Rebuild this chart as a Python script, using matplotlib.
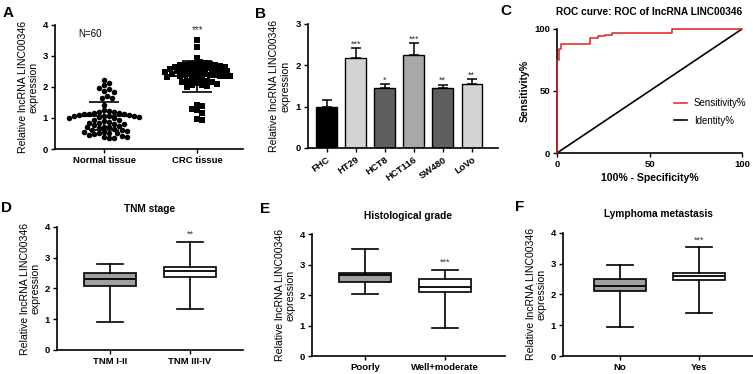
import numpy as np
import matplotlib
matplotlib.use("Agg")
import matplotlib.pyplot as plt

plt.rcParams['font.family'] = ['Liberation Sans', 'DejaVu Sans']

# ---------------- data ----------------
# Panel A: scatter dot plot (N=60 per group)
groups_A = ["Normal tissue", "CRC tissue"]
normal_vals = [2.22, 2.12, 2.05, 1.98, 1.95, 1.87, 1.85, 1.65, 1.65, 1.72,
               1.42, 1.25, 1.22, 1.20, 1.18, 1.15, 1.15, 1.13, 1.12, 1.12,
               1.10, 1.10, 1.08, 1.08, 1.05, 1.05, 1.02, 1.02, 1.00, 1.00,
               0.95, 0.92, 0.90, 0.88, 0.85, 0.85, 0.82, 0.80, 0.78, 0.75,
               0.72, 0.70, 0.70, 0.68, 0.65, 0.62, 0.60, 0.58, 0.55, 0.55,
               0.52, 0.50, 0.50, 0.48, 0.45, 0.42, 0.40, 0.38, 0.35, 0.35]
crc_vals = [3.50, 3.30, 2.95,
            2.80, 2.78, 2.76, 2.75, 2.74, 2.72, 2.70, 2.70, 2.68, 2.66,
            2.65, 2.64, 2.62, 2.60, 2.60, 2.58, 2.57, 2.55, 2.55, 2.53,
            2.52, 2.50, 2.50, 2.48, 2.47, 2.45, 2.45, 2.43, 2.42, 2.40,
            2.40, 2.38, 2.37, 2.36, 2.35, 2.35, 2.33, 2.30,
            2.25, 2.22, 2.20, 2.18, 2.16, 2.15, 2.12, 2.10, 2.08, 2.05,
            2.02, 2.00,
            1.42, 1.40, 1.30, 1.25, 1.15, 0.97, 0.95]
means_A = [1.06, 2.35]
sds_A = [0.44, 0.50]

# Panel B: bar chart
cells_B = ["FHC", "HT29", "HCT8", "HCT116", "SW480", "LoVo"]
means_B = [1.00, 2.18, 1.45, 2.25, 1.45, 1.55]
errs_B = [0.17, 0.23, 0.10, 0.28, 0.08, 0.11]
stars_B = ["", "***", "*", "***", "**", "**"]
colors_B = ["#000000", "#d4d4d4", "#5e5e5e", "#a8a8a8", "#5e5e5e", "#d4d4d4"]

# Panel C: ROC curve
roc_fpr = [0, 0, 1, 1, 2, 2, 18, 18, 22, 22, 26, 26, 30, 30, 62, 62, 100]
roc_tpr = [0, 75, 75, 84, 84, 88, 88, 93, 93, 94, 94, 95, 95, 97, 97, 100, 100]
ident_x = [0, 100]
ident_y = [0, 100]

# Panels D-F: box plots (whislo, q1, med, q3, whishi)
titles_box = ["TNM stage", "Histological grade", "Lymphoma metastasis"]
labels_box = [["TNM I-II", "TNM III-IV"], ["Poorly", "Well+moderate"], ["No", "Yes"]]
whislo_box = [[0.92, 1.32], [2.04, 0.91], [0.94, 1.41]]
q1_box = [[2.08, 2.38], [2.44, 2.11], [2.11, 2.46]]
med_box = [[2.32, 2.57], [2.66, 2.26], [2.27, 2.60]]
q3_box = [[2.50, 2.70], [2.73, 2.53], [2.49, 2.70]]
whishi_box = [[2.78, 3.50], [3.50, 2.81], [2.95, 3.52]]
stars_box = [["", "**"], ["", "***"], ["", "***"]]

# ---------------- helpers ----------------
FS_TICK = 6.8
FS_LAB = 7.6


def style(ax):
    for s in ["top", "right"]:
        ax.spines[s].set_visible(False)
    for s in ["left", "bottom"]:
        ax.spines[s].set_linewidth(1.2)
    ax.tick_params(direction="out", length=3, width=1.0, labelsize=FS_TICK, pad=2)
    for lab in ax.get_xticklabels() + ax.get_yticklabels():
        lab.set_fontweight("bold")


def swarm(vals, xpx, ypx, d):
    vals = np.asarray(vals, dtype=float)
    offs = np.zeros(len(vals))
    placed = []
    order = np.argsort(-vals)
    step = d * 0.5
    for i in order:
        y = vals[i] * ypx
        cands = [0.0]
        for j in range(1, 200):
            cands += [j * step, -j * step]
        for c in cands:
            ok = True
            for (px, py) in placed:
                if (c - px) ** 2 + (y - py) ** 2 < d * d:
                    ok = False
                    break
            if ok:
                placed.append((c, y))
                offs[i] = c / xpx
                break
    return offs


fig = plt.figure(figsize=(7.53, 3.74), dpi=100)
ylab = "Relative lncRNA LINC00346\nexpression"

# ---------------- Panel A ----------------
axA = fig.add_axes([0.073, 0.6016, 0.2497, 0.3316])
for gi, (vals, mk) in enumerate([(normal_vals, "o"), (crc_vals, "s")]):
    offs = swarm(vals, 93.0, 31.0, 5.0)
    axA.scatter(gi + offs, vals, marker=mk, s=16 if mk == "o" else 13,
                color="black", linewidths=0, zorder=2)
    m, sd = means_A[gi], sds_A[gi]
    axA.hlines(m, gi - 0.33, gi + 0.33, color="black", lw=1.3, zorder=3)
    axA.vlines(gi, m - sd, m + sd, color="black", lw=1.2, zorder=3)
    axA.hlines([m - sd, m + sd], gi - 0.16, gi + 0.16, color="black", lw=1.2, zorder=3)
axA.set_xlim(-0.53, 1.49)
axA.set_ylim(0, 4)
axA.set_yticks([0, 1, 2, 3, 4])
axA.set_xticks([0, 1])
axA.set_xticklabels(groups_A)
axA.set_ylabel(ylab, fontsize=FS_LAB, labelpad=3, linespacing=1.1)
axA.text(-0.15, 3.72, "N=60", fontsize=7, ha="center", va="center")
axA.text(1, 3.82, "***", fontsize=7, ha="center", va="center", color="#333333")
style(axA)

# ---------------- Panel B ----------------
axB = fig.add_axes([0.409, 0.6043, 0.2523, 0.3316])
xb = np.arange(len(cells_B))
axB.bar(xb, means_B, width=0.71, color=colors_B, edgecolor="black", linewidth=1.0, zorder=2)
axB.errorbar(xb, means_B, yerr=[np.zeros(len(xb)), errs_B], fmt="none",
             ecolor="black", elinewidth=1.1, capsize=3.6, capthick=1.1, zorder=1)
for x, m, e, s in zip(xb, means_B, errs_B, stars_B):
    if s:
        axB.text(x, m + e + 0.1, s, fontsize=6.5, ha="center", va="center", color="#333333")
axB.set_xlim(-0.64, 5.9)
axB.set_ylim(0, 3)
axB.set_yticks([0, 1, 2, 3])
axB.set_xticks(xb)
axB.set_xticklabels(cells_B, rotation=35, ha="right", rotation_mode="anchor")
axB.set_ylabel(ylab, fontsize=FS_LAB, labelpad=4, linespacing=1.1)
style(axB)

# ---------------- Panel C ----------------
axC = fig.add_axes([0.7397, 0.5909, 0.2457, 0.3316])
axC.plot(ident_x, ident_y, color="black", lw=1.2, label="Identity%", zorder=2)
axC.plot(roc_fpr, roc_tpr, color="#e02020", lw=1.1, label="Sensitivity%",
         zorder=5, clip_on=False)
axC.set_xlim(0, 100)
axC.set_ylim(0, 100)
axC.set_xticks([0, 50, 100])
axC.set_yticks([0, 50, 100])
axC.set_xlabel("100% - Specificity%", fontsize=FS_LAB, fontweight="bold", labelpad=3)
axC.set_ylabel("Sensitivity%", fontsize=FS_LAB, fontweight="bold", labelpad=3)
axC.set_title("ROC curve: ROC of lncRNA LINC00346", fontsize=7.3, fontweight="bold", pad=10)
h, l = axC.get_legend_handles_labels()
axC.legend([h[1], h[0]], [l[1], l[0]], loc="upper left", bbox_to_anchor=(0.63, 0.44),
           frameon=False, fontsize=7, handlelength=1.4, handletextpad=0.7,
           borderpad=0, borderaxespad=0, labelspacing=0.75)
style(axC)

# ---------------- Panels D-F ----------------
box_pos = [[0.0757, 0.0642, 0.247, 0.3289],
           [0.4143, 0.0481, 0.2563, 0.3262],
           [0.7477, 0.0481, 0.2523, 0.3297]]
box_xlim = [(-0.66, 1.66), (-0.66, 1.75), (-0.72, 1.68)]
for p in range(3):
    ax = fig.add_axes(box_pos[p])
    stats = []
    for g in range(2):
        stats.append(dict(whislo=whislo_box[p][g], q1=q1_box[p][g], med=med_box[p][g],
                          q3=q3_box[p][g], whishi=whishi_box[p][g], fliers=[],
                          label=labels_box[p][g]))
    bp = ax.bxp(stats, positions=[0, 1], widths=0.65, patch_artist=True,
                showfliers=False, capwidths=0.33,
                boxprops=dict(linewidth=1.2, edgecolor="black"),
                medianprops=dict(color="black", linewidth=1.3),
                whiskerprops=dict(color="black", linewidth=1.2),
                capprops=dict(color="black", linewidth=1.2))
    bp["boxes"][0].set_facecolor("#a0a0a0")
    bp["boxes"][1].set_facecolor("white")
    for g in range(2):
        if stars_box[p][g]:
            ax.text(g, whishi_box[p][g] + 0.25, stars_box[p][g], fontsize=6.5,
                    ha="center", va="center", color="#333333")
    ax.set_xlim(*box_xlim[p])
    ax.set_ylim(0, 4)
    ax.set_yticks([0, 1, 2, 3, 4])
    ax.set_title(titles_box[p], fontsize=7.3, fontweight="bold", pad=11)
    ax.set_ylabel(ylab, fontsize=FS_LAB, labelpad=3, linespacing=1.1)
    style(ax)

# panel letters
for letter, (x, y) in zip("ABCDEF", [(8, 13), (260, 14), (506, 11), (6, 208), (265, 209), (520, 207)]):
    fig.text(x / 753, 1 - y / 374, letter, fontsize=11, fontweight="bold", ha="center", va="center")

fig.savefig("out.png", dpi=100)
